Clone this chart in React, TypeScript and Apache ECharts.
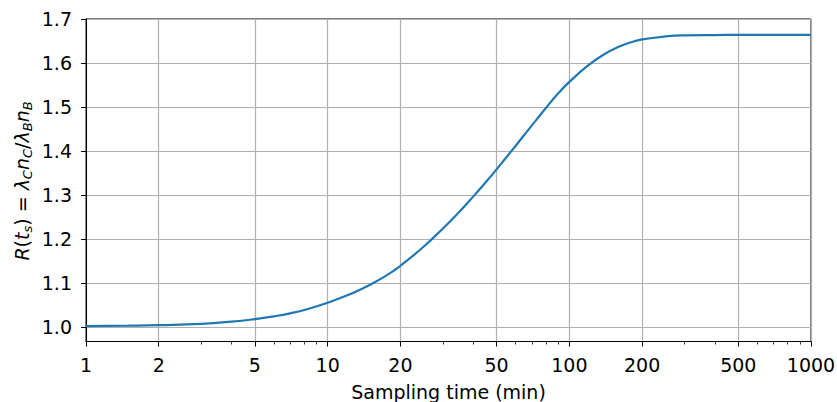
import React, { useEffect, useRef } from 'react';
import * as echarts from 'echarts';

const sampleTimes = [1, 1.5, 2, 3, 4, 5, 6, 7, 8, 10, 12, 14, 16, 18, 20, 25, 30, 35, 40, 45, 50, 60, 70, 80, 90, 100, 120, 140, 160, 180, 200, 250, 300, 400, 500, 700, 1000];
const ratioValues = [1.002, 1.003, 1.0042, 1.0072, 1.0122, 1.018, 1.0243, 1.031, 1.0385, 1.055, 1.0716, 1.088, 1.1046, 1.1214, 1.139, 1.183, 1.224, 1.2615, 1.2963, 1.3284, 1.3583, 1.412, 1.4583, 1.4977, 1.531, 1.557, 1.595, 1.6205, 1.6367, 1.647, 1.6535, 1.6603, 1.6627, 1.6635, 1.6638, 1.664, 1.664];
const xMajorTicks = [1, 2, 5, 10, 20, 50, 100, 200, 500, 1000];
const xMinorTicks = [3, 4, 6, 7, 8, 9, 30, 40, 60, 70, 80, 90, 300, 400, 600, 700, 800, 900];
const yTicks = [1.0, 1.1, 1.2, 1.3, 1.4, 1.5, 1.6, 1.7];

const FONT = 'DejaVu Sans';
const FS = 19;

export default function App() {
  const ref = useRef<HTMLDivElement>(null);
  useEffect(() => {
    if (!ref.current) return;
    const chart = echarts.init(ref.current, undefined, { renderer: 'svg' });
    const lg = (v: number) => Math.log10(v);
    chart.setOption({
      animation: false,
      backgroundColor: '#ffffff',
      grid: {
        left: 86, right: 26, top: 19, bottom: 60.5,
        outerBoundsMode: 'none', containLabel: false,
        show: true, borderColor: '#000', borderWidth: 1, backgroundColor: 'transparent',
      },
      xAxis: [
        {
          type: 'value',
          min: 0,
          max: 3,
          position: 'bottom',
          axisLine: { show: true, lineStyle: { color: '#000', width: 1 } },
          axisTick: { show: true, length: 5, customValues: xMajorTicks.map(lg), lineStyle: { color: '#000', width: 1 } },
          axisLabel: {
            customValues: xMajorTicks.map(lg),
            formatter: (v: number) => String(Math.round(Math.pow(10, v))),
            color: '#000', fontFamily: FONT, fontSize: FS, margin: 14,
          },
          splitLine: { show: true, lineStyle: { color: '#b0b0b0', width: 1.2 } },
          name: 'Sampling time (min)',
          nameLocation: 'middle',
          nameGap: 40.5,
          nameTextStyle: { color: '#000', fontFamily: FONT, fontSize: FS },
        },
        {
          type: 'value',
          min: 0,
          max: 3,
          position: 'bottom',
          axisLine: { show: false },
          axisTick: { show: true, length: 3, customValues: xMinorTicks.map(lg), lineStyle: { color: '#000', width: 0.8 } },
          axisLabel: { show: false },
          splitLine: { show: false },
        },
      ],
      yAxis: {
        type: 'value',
        min: 0.967,
        max: 1.7,
        axisLine: { show: true, lineStyle: { color: '#000', width: 1 } },
        axisTick: { show: true, length: 5, customValues: yTicks, lineStyle: { color: '#000', width: 1 } },
        axisLabel: {
          customValues: yTicks,
          formatter: (v: number) => v.toFixed(1),
          color: '#000', fontFamily: FONT, fontSize: FS, margin: 14,
        },
        splitLine: { show: true, lineStyle: { color: '#b0b0b0', width: 1.2 } },
      },
      graphic: [
        {
          type: 'text',
          x: 22,
          y: 181,
          rotation: Math.PI / 2,
          style: {
            text: '{i|R}({i|t}{s|s}) = {i|λ}{s|C}{i|n}{s|C}/{i|λ}{s|B}{i|n}{s|B}',
            fontFamily: FONT,
            fontSize: FS,
            fill: '#000',
            align: 'center',
            verticalAlign: 'middle',
            rich: {
              i: { fontFamily: FONT, fontSize: FS, fontStyle: 'italic', fill: '#000', lineHeight: 24, verticalAlign: 'middle' },
              s: { fontFamily: FONT, fontSize: 13, fontStyle: 'italic', fill: '#000', verticalAlign: 'bottom', lineHeight: 24 },
            },
          },
        },
      ],
      series: [
        {
          type: 'line',
          xAxisIndex: 0,
          data: sampleTimes.map((t, i) => [lg(t), ratioValues[i]]),
          showSymbol: false,
          smooth: 0.5,
          lineStyle: { color: '#1f77b4', width: 2.2 },
          itemStyle: { color: '#1f77b4' },
          silent: true,
        },
      ],
    });
    return () => chart.dispose();
  }, []);
  return <div ref={ref} style={{ width: 837, height: 402, position: 'fixed', left: 0, top: 0 }} />;
}
